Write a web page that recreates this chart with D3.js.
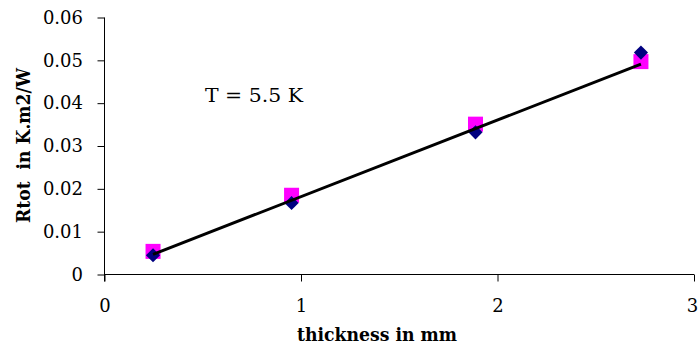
<!DOCTYPE html>
<html>
<head>
<meta charset="utf-8">
<script src="https://cdn.jsdelivr.net/npm/d3@7"></script>
<style>
  body { margin: 0; background: #fff; }
</style>
</head>
<body>
<div id="chart"></div>
<script>
// values
const thickness = [0.247, 0.952, 1.888, 2.73];
const rtotSquares = [0.0054, 0.0185, 0.0351, 0.0497];
const rtotDiamonds = [0.0045, 0.0167, 0.0332, 0.0518];
const trendX = [0.247, 2.73];
const trendY = [0.0047, 0.0491];
const xTicks = [0, 1, 2, 3];
const yTicks = [0, 0.01, 0.02, 0.03, 0.04, 0.05, 0.06];

// only serif face that the renderer has
const font = "'DejaVu Serif', 'Liberation Serif', serif";
const sirina = 699, visina = 347;
const okvir = d3.select("#chart")
    .append("svg")
    .attr("width", sirina)
    .attr("height", visina)
    .attr("font-family", font);

const x = d3.scaleLinear().domain([0, 3]).range([104.5, 694]);
const y = d3.scaleLinear().domain([0, 0.06]).range([274.5, 17.5]);

// y axis
const yAxis = okvir.append("g")
    .attr("transform", "translate(104.5,0)")
    .call(d3.axisLeft(y).tickValues(yTicks).tickSize(7).tickPadding(14.5)
        .tickFormat(d => d === 0 ? "0" : d3.format(".2f")(d)));
yAxis.select(".domain").attr("d", "M0," + y(0.06) + "V" + (y(0) + 7));

// x axis
const xAxis = okvir.append("g")
    .attr("transform", "translate(0,274.5)")
    .call(d3.axisBottom(x).tickValues(xTicks).tickSize(7).tickPadding(18)
        .tickFormat(d3.format("d")));
xAxis.select(".domain").attr("d", "M" + x(0) + ",0H" + x(3));

okvir.selectAll("g").attr("font-family", font);
okvir.selectAll(".tick text")
    .attr("font-size", 18);
okvir.selectAll(".tick").filter(d => d === 3).select("text").attr("dx", -2);
okvir.selectAll(".domain, .tick line").attr("stroke", "#000");

// markers
okvir.append("g").selectAll("rect")
    .data(thickness.map((t, i) => ({ t: t, v: rtotSquares[i] })))
    .enter()
    .append("rect")
    .attr("x", d => x(d.t) - 7.5)
    .attr("y", d => y(d.v) - 7.5)
    .attr("width", 15)
    .attr("height", 15)
    .attr("fill", "#ff00ff");

okvir.append("g").selectAll("path")
    .data(thickness.map((t, i) => ({ t: t, v: rtotDiamonds[i] })))
    .enter()
    .append("path")
    .attr("d", d3.symbol().type(d3.symbolDiamond2).size(128))
    .attr("transform", d => "translate(" + x(d.t) + "," + y(d.v) + ")")
    .attr("fill", "#000080");

// trend line
const linija = d3.line().x(d => x(d[0])).y(d => y(d[1]));
okvir.append("path")
    .datum(trendX.map((t, i) => [t, trendY[i]]))
    .attr("d", linija)
    .attr("stroke", "#000")
    .attr("stroke-width", 3)
    .attr("fill", "none");

// texts
okvir.append("text")
    .attr("x", 205)
    .attr("y", 102)
    .attr("font-size", 18)
    .attr("textLength", 98)
    .attr("lengthAdjust", "spacingAndGlyphs")
    .text("T = 5.5 K");

okvir.append("text")
    .attr("x", 297)
    .attr("y", 341)
    .attr("font-size", 18)
    .attr("font-weight", "bold")
    .attr("textLength", 160)
    .attr("lengthAdjust", "spacingAndGlyphs")
    .text("thickness in mm");

okvir.append("text")
    .attr("transform", "translate(30,223) rotate(-90)")
    .attr("font-size", 18)
    .attr("font-weight", "bold")
    .attr("textLength", 155)
    .attr("lengthAdjust", "spacingAndGlyphs")
    .style("white-space", "pre")
    .text("Rtot  in K.m2/W");
</script>
</body>
</html>
